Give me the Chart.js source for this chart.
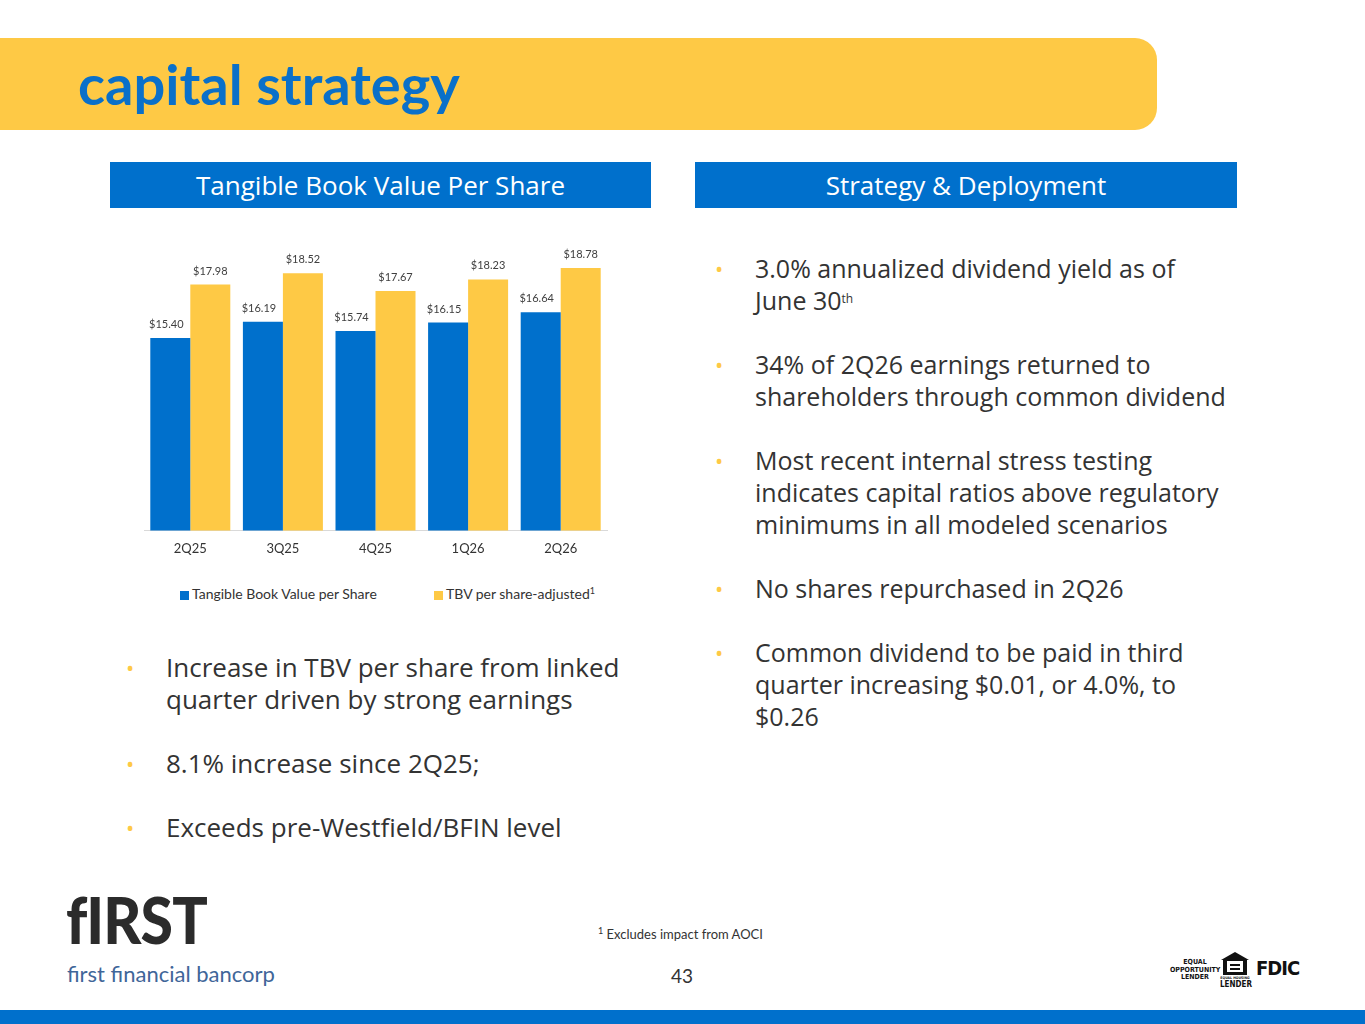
<!DOCTYPE html>
<html>
<head>
<meta charset="utf-8">
<script src="https://cdn.jsdelivr.net/npm/chart.js@4"></script>
<style>
  body { margin: 0; width: 1365px; height: 1024px; position: relative; background: #fff; font-family: 'Open Sans', Lato, sans-serif; overflow: hidden; }
  .abs { position: absolute; }
  #banner { left: 0; top: 38px; width: 1157px; height: 92px; background: #fec945; border-radius: 0 22px 22px 0; }
  #title { left: 78px; top: 52px; font-family: Lato; font-size: 56px; font-weight: 700; color: #0a70c9; line-height: 64px; }
  .head { top: 162px; height: 46px; background: #0070cc; color: #fff; font-size: 26px; font-weight: 500; line-height: 46px; text-align: center; }
  ul { margin: 0; padding: 0; list-style: none; }
  li { position: relative; line-height: 32px; color: #333; margin-bottom: 32px; }
  li:before { content: '\2022'; color: #fec945; position: absolute; left: -40px; font-size: 22px; }
  sup { font-size: 12px; line-height: 0; vertical-align: 7px; }
  #chartBox { left: 110px; top: 240px; width: 540px; height: 328px; }
  .leg { top: 585px; font-family: Lato; font-size: 14px; line-height: 18px; color: #333; white-space: nowrap; }
  .leg i { display: inline-block; width: 9px; height: 9px; margin-right: 3px; vertical-align: -0.5px; }
  .leg sup { font-size: 9px; vertical-align: 5px; }
  .tiny { font-family: 'DejaVu Sans Condensed', 'Liberation Sans Narrow', sans-serif; font-weight: 700; color: #111; text-align: center; white-space: nowrap; }
  #foot { left: 0; top: 1010px; width: 1365px; height: 14px; background: #0070cc; }
</style>
</head>
<body>
<div class="abs" id="banner"></div>
<div class="abs" id="title">capital strategy</div>
<div class="abs head" style="left:110px;width:541px">Tangible Book Value Per Share</div>
<div class="abs head" style="left:695px;width:542px">Strategy &amp; Deployment</div>

<div class="abs" id="chartBox"><canvas id="tbvChart"></canvas></div>
<div class="abs leg" id="leg0" style="left:180px"></div>
<div class="abs leg" id="leg1" style="left:434px"></div>

<ul class="abs" style="left:166px;top:651px;width:480px;font-size:26px">
  <li>Increase in TBV per share from linked quarter driven by strong earnings</li>
  <li>8.1% increase since 2Q25;</li>
  <li>Exceeds pre-Westfield/BFIN level</li>
</ul>

<ul class="abs" style="left:755px;top:252px;width:474px;font-size:25px">
  <li>3.0% annualized dividend yield as of June 30<sup>th</sup></li>
  <li>34% of 2Q26 earnings returned to shareholders through common dividend</li>
  <li>Most recent internal stress testing indicates capital ratios above regulatory minimums in all modeled scenarios</li>
  <li>No shares repurchased in 2Q26</li>
  <li>Common dividend to be paid in third quarter increasing $0.01, or 4.0%, to $0.26</li>
</ul>

<div class="abs" style="left:66px;top:884px;font-family:Lato;font-size:64px;font-weight:900;color:#2b2b2b;letter-spacing:-1px;line-height:72px;transform:scaleX(0.92);transform-origin:left">fIRST</div>
<div class="abs" style="left:67px;top:960px;font-family:Lato;font-size:22px;color:#3f6699;line-height:28px">first financial bancorp</div>
<div class="abs" style="left:598px;top:926px;font-family:Lato;font-size:13px;color:#333"><sup style="font-size:9px;vertical-align:5px">1</sup> Excludes impact from AOCI</div>
<div class="abs" style="left:671px;top:964px;font-family:Lato;font-size:19px;color:#333">43</div>
<div class="abs tiny" style="left:1170px;top:959px;width:50px;font-size:7px;line-height:7.5px">EQUAL<br>OPPORTUNITY<br>LENDER</div>
<svg class="abs" style="left:1220px;top:951px" width="32" height="26" viewBox="0 0 32 26">
  <path d="M15 1 L29 9 L27 9 L27 24 L3 24 L3 9 L1 9 Z" fill="#111"/>
  <rect x="7" y="10" width="16" height="11" fill="#fff"/>
  <rect x="10" y="13" width="10" height="2" fill="#111"/>
  <rect x="10" y="17" width="10" height="2" fill="#111"/>
</svg>
<div class="abs tiny" style="left:1220px;top:976px;width:30px;font-size:3.5px;line-height:4px">EQUAL HOUSING</div>
<div class="abs tiny" style="left:1220px;top:980px;width:30px;font-size:8px;line-height:9px">LENDER</div>
<div class="abs" style="left:1256px;top:956px;font-family:'DejaVu Sans Condensed';font-size:20px;font-weight:700;color:#111;letter-spacing:-1px">FDIC</div>
<div class="abs" id="foot"></div>

<script>
var quarters = ['2Q25', '3Q25', '4Q25', '1Q26', '2Q26']
var tbvPerShare = [15.40, 16.19, 15.74, 16.15, 16.64]
var tbvAdjusted = [17.98, 18.52, 17.67, 18.23, 18.78]
var seriesNames = ['Tangible Book Value per Share', 'TBV per share-adjusted']
var seriesNotes = ['', '1']
var seriesColors = ['#0070cc', '#fec945']

var valueLabels = {
  id: 'valueLabels',
  afterDatasetsDraw: function (chart) {
    var ctx = chart.ctx
    ctx.save()
    ctx.font = '11px Lato'
    ctx.fillStyle = '#404040'
    ctx.textAlign = 'center'
    ctx.textBaseline = 'bottom'
    chart.data.datasets.forEach(function (ds, i) {
      chart.getDatasetMeta(i).data.forEach(function (bar, j) {
        var shift = i === 0 ? -4 : 0
        ctx.fillText('$' + ds.data[j].toFixed(2), bar.x + shift, bar.y - 8)
      })
    })
    ctx.restore()
  }
}

var tbvChart = new Chart(document.getElementById('tbvChart'), {
  type: 'bar',
  data: {
    labels: quarters,
    datasets: [
      { label: seriesNames[0], data: tbvPerShare, backgroundColor: seriesColors[0] },
      { label: seriesNames[1], data: tbvAdjusted, backgroundColor: seriesColors[1] }
    ]
  },
  options: {
    responsive: true,
    maintainAspectRatio: false,
    animation: false,
    categoryPercentage: 0.864,
    barPercentage: 1,
    layout: { padding: { left: 34, right: 43, top: 0, bottom: 0 } },
    scales: {
      x: {
        grid: { display: false, drawTicks: false },
        border: { color: '#d9d9d9' },
        ticks: { color: '#333', font: { family: 'Lato', size: 13 }, padding: 11 }
      },
      y: { display: false, min: 6.12, max: 20.13 }
    },
    plugins: {
      legend: { display: false },
      tooltip: { enabled: false }
    }
  },
  plugins: [valueLabels]
})

// legend built from the chart's own datasets
tbvChart.data.datasets.forEach(function (ds, i) {
  var el = document.getElementById('leg' + i)
  el.innerHTML = '<i style="background:' + ds.backgroundColor + '"></i>' + ds.label +
    (seriesNotes[i] ? '<sup>' + seriesNotes[i] + '</sup>' : '')
})
</script>
</body>
</html>
